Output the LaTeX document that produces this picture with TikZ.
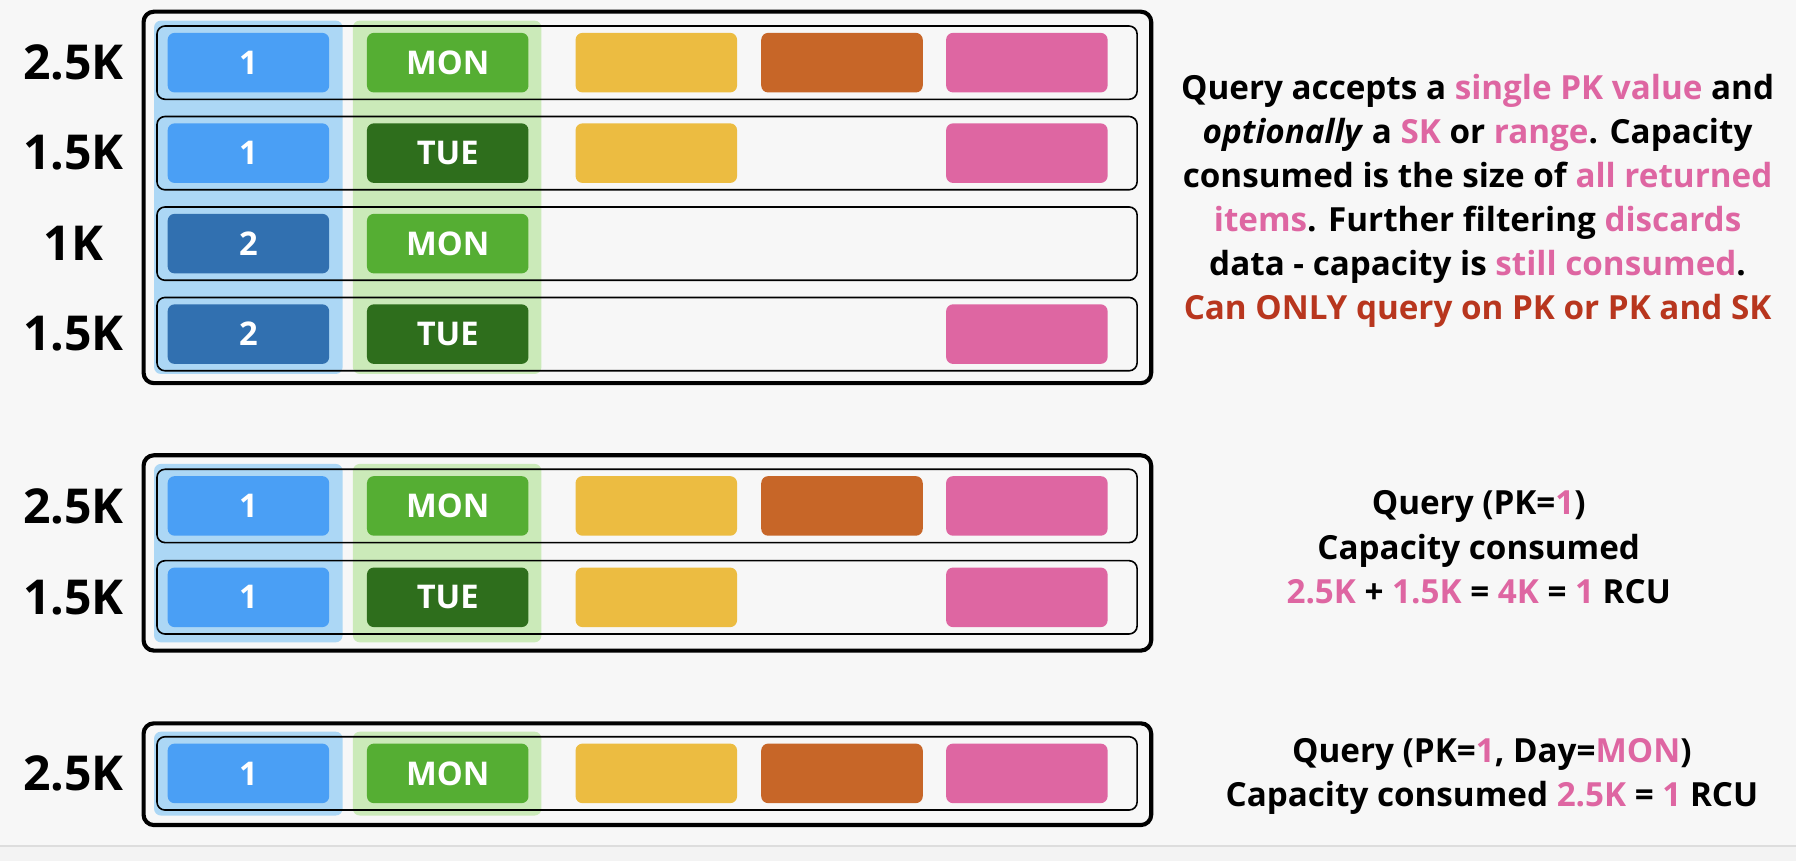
\documentclass[tikz,border=0pt]{standalone}
\usepackage{fontspec}
\setmainfont{Open Sans}
\definecolor{bgc}{HTML}{F7F7F7}
\definecolor{botc}{HTML}{F3F3F3}
\definecolor{sepc}{HTML}{DDDDDD}
\definecolor{cblue}{HTML}{4A9FF5}
\definecolor{cdblue}{HTML}{3170B0}
\definecolor{cgreen}{HTML}{55AE33}
\definecolor{cdgreen}{HTML}{2E6E1C}
\definecolor{cyellow}{HTML}{ECBC41}
\definecolor{corange}{HTML}{C76628}
\definecolor{cpink}{HTML}{DE66A2}
\definecolor{hlblue}{HTML}{ACD7F5}
\definecolor{hlgreen}{HTML}{CBEAB9}
\definecolor{cred}{HTML}{B8361E}
\definecolor{tpink}{HTML}{DE66A2}
\newcommand\pkc[1]{\textcolor{tpink}{#1}}
\def\xa{216.9}
\def\xb{390.9}
\def\xc{573}
\def\xd{735.1}
\def\xe{896.5}
\begin{document}
\begin{tikzpicture}[x=1pt,y=-1pt,
  every node/.style={inner sep=0pt, outer sep=0pt},
  outerbox/.style={draw=black, line width=3.6pt, rounded corners=9pt, minimum width=879.7pt},
  rowbox/.style={draw=black, line width=1.4pt, rounded corners=7pt, minimum width=855.7pt, minimum height=64pt},
  hlbox/.style={rounded corners=6pt, minimum width=164.6pt},
  cell/.style={rounded corners=6pt, minimum width=141pt, minimum height=52pt, text=white, font=\fontsize{28.5}{30}\selectfont\bfseries},
  klabel/.style={font=\fontsize{42}{44}\selectfont\bfseries, text=black},
  txt/.style={anchor=base, font=\fontsize{29}{32}\selectfont\bfseries, text=black}
]
\useasboundingbox (0,0) rectangle (1568,752);
\fill[bgc] (0,0) rectangle (1568,752);
\fill[botc] (0,738.6) rectangle (1568,752);
\draw[sepc, line width=1.5pt] (0,738.6) -- (1568,738.6);

% ---------- Table 1 ----------
\node[hlbox, fill=hlblue, minimum height=308.5pt] (t1-hlb) at (216.8,172.25) {};
\node[hlbox, fill=hlgreen, minimum height=308.5pt] (t1-hlg) at (390.4,172.25) {};
\node[rowbox] (t1-r1) at (564.9,54.7) {};
\node[rowbox] (t1-r2) at (564.9,133.7) {};
\node[rowbox] (t1-r3) at (564.9,212.7) {};
\node[rowbox] (t1-r4) at (564.9,291.7) {};
\node[outerbox, minimum height=324.3pt] (t1) at (565.2,172.35) {};

\node[klabel] (t1-l1) at (64,54.7) {2.5K};
\node[klabel] (t1-l2) at (64,133.7) {1.5K};
\node[klabel] (t1-l3) at (64,212.7) {1K};
\node[klabel] (t1-l4) at (64,291.7) {1.5K};

\node[cell, fill=cblue] (t1-r1-a) at (\xa,54.7) {1};
\node[cell, fill=cgreen] (t1-r1-b) at (\xb,54.7) {MON};
\node[cell, fill=cyellow] (t1-r1-c) at (\xc,54.7) {};
\node[cell, fill=corange] (t1-r1-d) at (\xd,54.7) {};
\node[cell, fill=cpink] (t1-r1-e) at (\xe,54.7) {};

\node[cell, fill=cblue] (t1-r2-a) at (\xa,133.7) {1};
\node[cell, fill=cdgreen] (t1-r2-b) at (\xb,133.7) {TUE};
\node[cell, fill=cyellow] (t1-r2-c) at (\xc,133.7) {};
\node[cell, fill=cpink] (t1-r2-e) at (\xe,133.7) {};

\node[cell, fill=cdblue] (t1-r3-a) at (\xa,212.7) {2};
\node[cell, fill=cgreen] (t1-r3-b) at (\xb,212.7) {MON};

\node[cell, fill=cdblue] (t1-r4-a) at (\xa,291.7) {2};
\node[cell, fill=cdgreen] (t1-r4-b) at (\xb,291.7) {TUE};
\node[cell, fill=cpink] (t1-r4-e) at (\xe,291.7) {};

% ---------- Table 2 ----------
\node[hlbox, fill=hlblue, minimum height=155.8pt] (t2-hlb) at (216.8,482.9) {};
\node[hlbox, fill=hlgreen, minimum height=155.8pt] (t2-hlg) at (390.4,482.9) {};
\node[rowbox] (t2-r1) at (564.9,441.7) {};
\node[rowbox] (t2-r2) at (564.9,521.5) {};
\node[outerbox, minimum height=170.5pt] (t2) at (565.2,482.75) {};

\node[klabel] (t2-l1) at (64,441.7) {2.5K};
\node[klabel] (t2-l2) at (64,521.5) {1.5K};

\node[cell, fill=cblue] (t2-r1-a) at (\xa,441.7) {1};
\node[cell, fill=cgreen] (t2-r1-b) at (\xb,441.7) {MON};
\node[cell, fill=cyellow] (t2-r1-c) at (\xc,441.7) {};
\node[cell, fill=corange] (t2-r1-d) at (\xd,441.7) {};
\node[cell, fill=cpink] (t2-r1-e) at (\xe,441.7) {};

\node[cell, fill=cblue] (t2-r2-a) at (\xa,521.5) {1};
\node[cell, fill=cdgreen] (t2-r2-b) at (\xb,521.5) {TUE};
\node[cell, fill=cyellow] (t2-r2-c) at (\xc,521.5) {};
\node[cell, fill=cpink] (t2-r2-e) at (\xe,521.5) {};

% ---------- Table 3 ----------
\node[hlbox, fill=hlblue, minimum height=73.2pt] (t3-hlb) at (216.8,675.4) {};
\node[hlbox, fill=hlgreen, minimum height=73.2pt] (t3-hlg) at (390.4,675.4) {};
\node[rowbox] (t3-r1) at (564.9,675.2) {};
\node[outerbox, minimum height=88.8pt] (t3) at (565.2,675.9) {};

\node[klabel] (t3-l1) at (64,675.2) {2.5K};

\node[cell, fill=cblue] (t3-r1-a) at (\xa,675.2) {1};
\node[cell, fill=cgreen] (t3-r1-b) at (\xb,675.2) {MON};
\node[cell, fill=cyellow] (t3-r1-c) at (\xc,675.2) {};
\node[cell, fill=corange] (t3-r1-d) at (\xd,675.2) {};
\node[cell, fill=cpink] (t3-r1-e) at (\xe,675.2) {};

% ---------- Right texts ----------
\node[txt] (a1) at (1290,86.7) {Query accepts a \pkc{single PK value} and};
\node[txt] (a2) at (1290,125.2) {\textit{optionally} a \pkc{SK} or \pkc{range}. Capacity};
\node[txt] (a3) at (1290,163.7) {consumed is the size of \pkc{all returned}};
\node[txt] (a4) at (1290,202.2) {\pkc{items}. Further filtering \pkc{discards}};
\node[txt] (a5) at (1290,240.7) {data - capacity is \pkc{still consumed}.};
\node[txt, text=cred] (a6) at (1290,279.2) {Can ONLY query on PK or PK and SK};

\node[txt] (b1) at (1291,449.6) {Query (PK=\pkc{1})};
\node[txt] (b2) at (1291,488.5) {Capacity consumed};
\node[txt] (b3) at (1291,527) {\pkc{2.5K} + \pkc{1.5K} = \pkc{4K} = \pkc{1} RCU};

\node[txt] (c1) at (1302.5,665.8) {Query (PK=\pkc{1}, Day=\pkc{MON})};
\node[txt] (c2) at (1302.5,704.3) {Capacity consumed \pkc{2.5K} = \pkc{1} RCU};
\end{tikzpicture}
\end{document}
